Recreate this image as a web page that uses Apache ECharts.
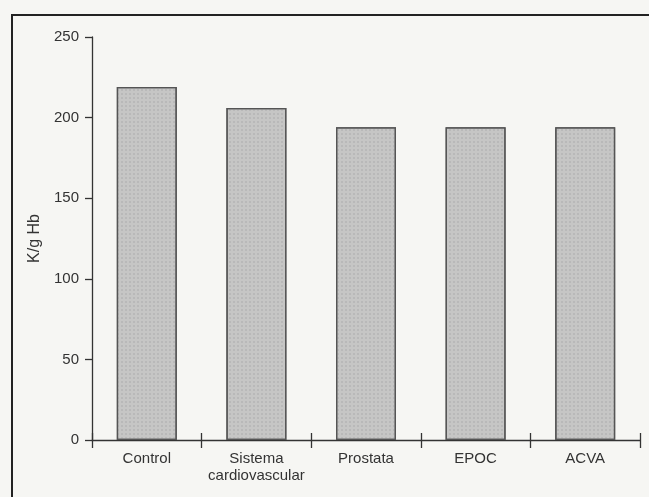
<!DOCTYPE html>
<html>
<head>
<meta charset="utf-8">
<script src="https://cdn.jsdelivr.net/npm/echarts@6/dist/echarts.min.js"></script>
<style>
html,body{margin:0;padding:0;background:#f6f6f3;}
#c{width:649px;height:497px;}
</style>
</head>
<body>
<div id="c"></div>
<script>
var categories = ['Control', 'Sistema\ncardiovascular', 'Prostata', 'EPOC', 'ACVA'];
var values = [219, 206, 194, 194, 194];
var yTicks = {min: 0, max: 250, interval: 50};
var yName = 'K/g Hb';

var chart = echarts.init(document.getElementById('c'), null, {renderer: 'canvas'});
var font = 'Liberation Sans, Arial, Helvetica, sans-serif';
chart.setOption({
  backgroundColor: '#f6f6f3',
  animation: false,
  grid: {left: 92, right: 9, top: 37, bottom: 57},
  xAxis: [{
    type: 'category',
    data: categories,
    axisLine: {lineStyle: {color: '#333', width: 1.3}},
    axisTick: {show: true, length: 8, lineStyle: {color: '#333', width: 1.3}},
    axisLabel: {color: '#333', fontSize: 15, fontFamily: font, margin: 10, lineHeight: 17, interval: 0, hideOverlap: false}
  }, {
    type: 'category',
    data: categories,
    position: 'bottom',
    axisLine: {show: false},
    axisTick: {show: true, inside: true, length: 7, lineStyle: {color: '#333', width: 1.3}},
    axisLabel: {show: false}
  }],
  yAxis: {
    type: 'value',
    min: yTicks.min, max: yTicks.max, interval: yTicks.interval,
    name: yName,
    nameLocation: 'middle',
    nameGap: 49,
    nameRotate: 90,
    nameTextStyle: {color: '#333', fontSize: 16, fontFamily: font},
    axisLine: {show: true, lineStyle: {color: '#333', width: 1.3}},
    axisTick: {show: true, length: 7, lineStyle: {color: '#333', width: 1.3}},
    axisLabel: {color: '#333', fontSize: 15, fontFamily: font, margin: 13},
    splitLine: {show: false}
  },
  series: [{
    type: 'bar',
    xAxisIndex: 0,
    data: values,
    barWidth: 60,
    itemStyle: {
      color: '#c6c6c5',
      borderColor: '#555',
      borderWidth: 1.3,
      decal: {symbol: 'circle', symbolSize: 0.5, dashArrayX: [4, 0], dashArrayY: [4, 0], color: 'rgba(150,150,150,0.35)'}
    }
  }],
  graphic: [{
    type: 'polyline',
    shape: {points: [[12, 497], [12, 15], [649, 15]]},
    style: {stroke: '#222', lineWidth: 2, fill: null}
  }]
});
</script>
</body>
</html>
